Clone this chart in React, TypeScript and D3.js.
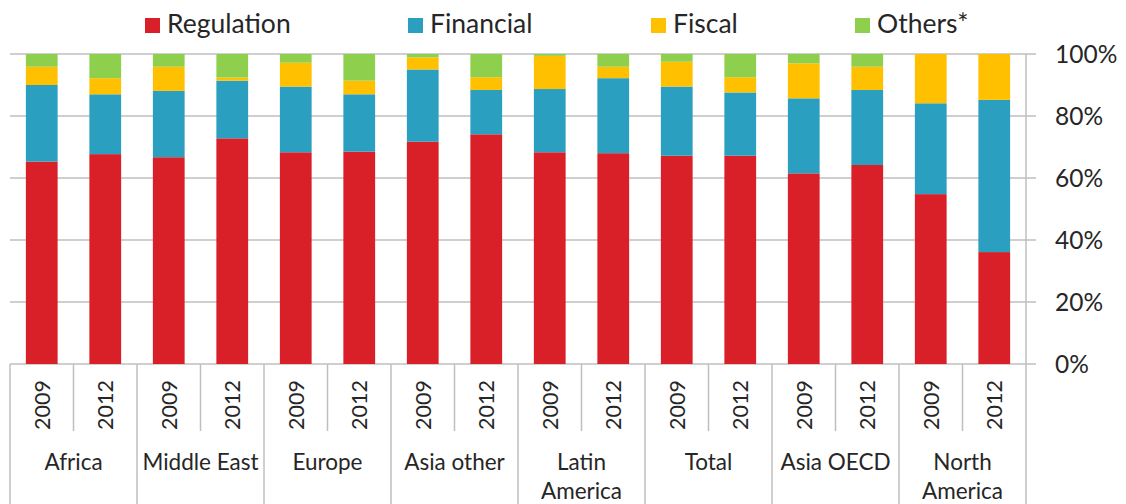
import React from "react";
import * as d3 from "d3";

const regions = ["Africa", "Middle East", "Europe", "Asia other", "Latin America", "Total", "Asia OECD", "North America"];
const wrappedRegions = ["Latin America", "North America"];
const years = ["2009", "2012"];
const seriesNames = ["Regulation", "Financial", "Fiscal", "Others*"];
const seriesColors = ["#d91f27", "#2a9fbf", "#ffc000", "#8fcf4e"];
const regulation = [65.3, 67.7, 66.7, 72.8, 68.3, 68.5, 71.7, 74.1, 68.3, 68.0, 67.2, 67.2, 61.5, 64.2, 54.8, 36.1];
const financial = [24.7, 19.3, 21.4, 18.6, 21.2, 18.5, 23.3, 14.3, 20.4, 24.2, 22.3, 20.4, 24.2, 24.2, 29.3, 49.1];
const fiscal = [5.9, 5.2, 7.8, 1.0, 7.7, 4.4, 3.9, 4.1, 10.7, 3.7, 8.0, 4.9, 11.3, 7.5, 15.9, 14.8];
const others = [4.1, 7.8, 4.1, 7.6, 2.8, 8.6, 1.1, 7.5, 0.6, 4.1, 2.5, 7.5, 3.0, 4.1, 0, 0];
const yTicks = [0, 20, 40, 60, 80, 100];

const W = 1126, H = 504;
const left = 10, right = 1026, top = 54, bottom = 364;
const FONT = "Lato, 'Open Sans', sans-serif";

export default function App() {
  const keys = regions.flatMap((r) => years.map((y) => `${r}|${y}`));
  const rows = keys.map((k, i) => ({
    key: k,
    Regulation: regulation[i],
    Financial: financial[i],
    Fiscal: fiscal[i],
    "Others*": others[i],
  }));
  const stack = d3.stack<any>().keys(seriesNames)(rows);
  const x = d3.scaleBand().domain(keys).range([left, right]).paddingInner(0.5).paddingOuter(0.25);
  const xg = d3.scaleBand().domain(regions).range([left, right]).padding(0);
  const y = d3.scaleLinear().domain([0, 100]).range([bottom, top]);
  const step = x.step();

  const legendX = [145, 408, 651, 855];

  return (
    <svg width={W} height={H} style={{ position: "absolute", left: 0, top: 0, background: "#fff" }} fontFamily={FONT}>
      {/* legend */}
      {seriesNames.map((s, i) => (
        <g key={s}>
          <rect x={legendX[i]} y={18} width={15} height={15} fill={seriesColors[i]} />
          <text x={legendX[i] + 22} y={33} fontSize={26.5} fill="#262626">{s}</text>
        </g>
      ))}
      {/* gridlines */}
      {yTicks.map((t) => (
        <line key={t} x1={left} x2={right + 10} y1={y(t)} y2={y(t)} stroke="#bfbfbf" strokeWidth={1.5} />
      ))}
      {/* bars */}
      {stack.map((layer, li) => (
        <g key={layer.key} fill={seriesColors[li]}>
          {layer.map((d, i) => (
            <rect key={i} x={x(keys[i])} width={x.bandwidth()} y={y(d[1])} height={Math.max(0, y(d[0]) - y(d[1]))} />
          ))}
        </g>
      ))}
      {/* right axis */}
      <line x1={right} x2={right} y1={top} y2={bottom} stroke="#bfbfbf" strokeWidth={1.5} />
      {yTicks.map((t) => (
        <text key={t} x={1055} y={y(t)} dy="0.36em" fontSize={24.5} fill="#262626">{t}%</text>
      ))}
      {/* category axis */}
      {regions.map((r) => (
        <line key={r} x1={xg(r)} x2={xg(r)} y1={bottom} y2={H} stroke="#bfbfbf" strokeWidth={1.5} />
      ))}
      <line x1={right} x2={right} y1={bottom} y2={H} stroke="#bfbfbf" strokeWidth={1.5} />
      {regions.map((r) => (
        <line key={r + "m"} x1={(xg(r) as number) + step} x2={(xg(r) as number) + step} y1={bottom} y2={431} stroke="#bfbfbf" strokeWidth={1.5} />
      ))}
      {keys.map((k) => {
        const cx = (x(k) as number) + x.bandwidth() / 2;
        return (
          <text key={k} transform={`translate(${cx},380) rotate(-90)`} textAnchor="end" dy="0.36em" fontSize={21.5} fill="#262626">
            {k.split("|")[1]}
          </text>
        );
      })}
      {regions.map((r) => {
        const cx = (xg(r) as number) + xg.bandwidth() / 2;
        const lines = wrappedRegions.includes(r) ? r.split(" ") : [r];
        return (
          <text key={r} x={cx} y={470} textAnchor="middle" fontSize={22.5} fill="#262626">
            {lines.map((l, i) => (
              <tspan key={i} x={cx} dy={i === 0 ? 0 : 29}>{l}</tspan>
            ))}
          </text>
        );
      })}
    </svg>
  );
}
